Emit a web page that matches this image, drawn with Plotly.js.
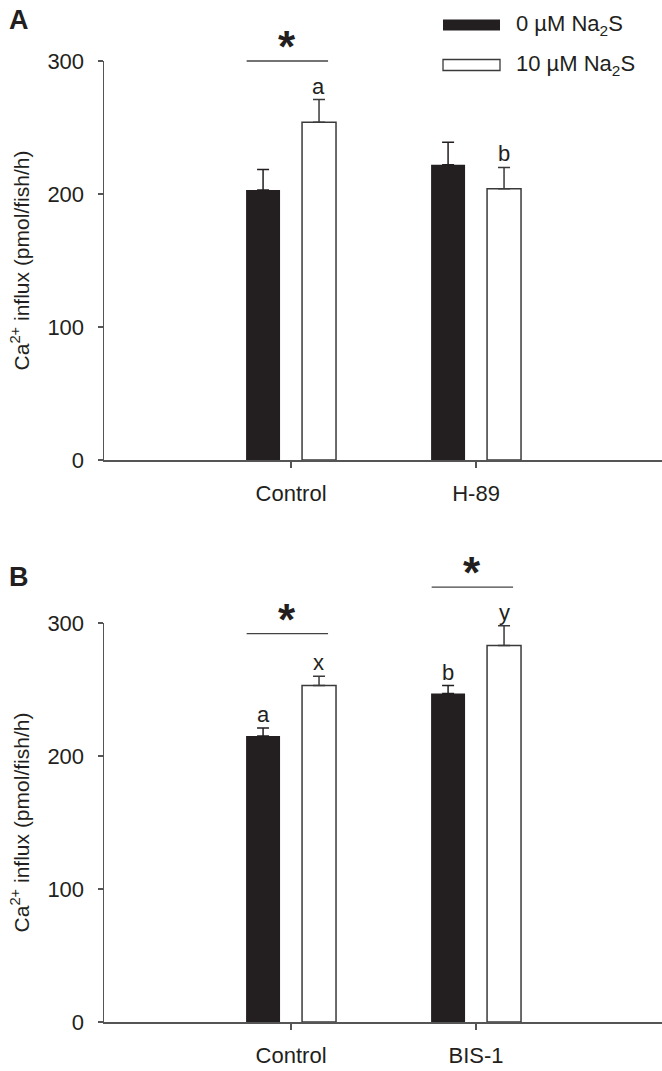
<!DOCTYPE html>
<html>
<head>
<meta charset="utf-8">
<script src="https://cdn.plot.ly/plotly-3.0.1.min.js"></script>
<style>html,body{margin:0;padding:0;background:#fff;}#chart{width:662px;height:1071px;}</style>
</head>
<body>
<div id="chart"></div>
<script>
// ---------- data ----------
const categoriesA = ["Control", "H-89"];
const categoriesB = ["Control", "BIS-1"];
const seriesNames = ["0 µM Na<sub>2</sub>S", "10 µM Na<sub>2</sub>S"];

const meanA_0 = [203, 222];
const errA_0  = [15.5, 17];
const meanA_10 = [254, 204];
const errA_10  = [17, 16];

const meanB_0 = [215, 247];
const errB_0  = [6, 6];
const meanB_10 = [253, 283];
const errB_10  = [7, 15];

// letter labels over bars (per category), "" = none
const lettersA_0 = ["", ""];
const lettersA_10 = ["a", "b"];
const lettersB_0 = ["a", "b"];
const lettersB_10 = ["x", "y"];

// significance bars: category index + level
const sigA_cat = [0];
const sigA_level = [300];
const sigB_cat = [0, 1];
const sigB_level = [292, 327];

// ---------- styling / layout ----------
const W = 662, H = 1071;
const FONT = "Liberation Sans, Arial, Helvetica, sans-serif";
const TXT = "#231f20";
const AX = "#555555";
const px = v => v / W;
const py = v => 1 - v / H;

const domA = [py(460), py(61)];
const domB = [py(1022), py(623)];
const xDom = [px(104), 1];
const xRange = [-1.011, 2.005];
const yRange = [0, 300];

// data -> paper helpers (through the axis mapping)
const xToPaper = x => xDom[0] + (x - xRange[0]) / (xRange[1] - xRange[0]) * (xDom[1] - xDom[0]);
const yToPaper = (y, dom) => dom[0] + (y - yRange[0]) / (yRange[1] - yRange[0]) * (dom[1] - dom[0]);

function barTrace(x, y, e, fill, name, xa, ya) {
  const white = fill === "#ffffff";
  return {
    type: "bar", x: x, y: y, name: name, xaxis: xa, yaxis: ya, showlegend: false,
    marker: {color: fill, line: {color: white ? "#3a3a3a" : TXT, width: white ? 1.5 : 0}},
    error_y: {type: "data", array: e, arrayminus: e.map(() => 0), symmetric: false,
              color: white ? "#3a3a3a" : TXT, thickness: 1.5, width: 6},
    hoverinfo: "skip"
  };
}

const xIdx = [0, 1];
const traces = [
  barTrace(xIdx, meanA_0, errA_0, TXT, seriesNames[0], "x", "y"),
  barTrace(xIdx, meanA_10, errA_10, "#ffffff", seriesNames[1], "x", "y"),
  barTrace(xIdx, meanB_0, errB_0, TXT, seriesNames[0], "x2", "y2"),
  barTrace(xIdx, meanB_10, errB_10, "#ffffff", seriesNames[1], "x2", "y2")
];

const annotations = [];
const shapes = [];

// bar offsets within a group (fraction of category spacing)
const OFF0 = -0.151, OFF10 = 0.151;

function letters(arr, means, errs, off, xa, ya) {
  arr.forEach((t, i) => {
    if (!t) return;
    annotations.push({xref: xa, yref: ya, x: xIdx[i] + off, y: means[i] + errs[i],
      text: t, showarrow: false, yanchor: "bottom", xanchor: "center", yshift: -1,
      font: {family: FONT, size: 22, color: TXT}});
  });
}
letters(lettersA_0, meanA_0, errA_0, OFF0, "x", "y");
letters(lettersA_10, meanA_10, errA_10, OFF10, "x", "y");
letters(lettersB_0, meanB_0, errB_0, OFF0, "x2", "y2");
letters(lettersB_10, meanB_10, errB_10, OFF10, "x2", "y2");

function sig(cats, levels, dom) {
  cats.forEach((c, i) => {
    const x1 = xIdx[c] - 0.24, x2 = xIdx[c] + 0.2;
    const yp = yToPaper(levels[i], dom);
    shapes.push({type: "line", xref: "paper", yref: "paper",
      x0: xToPaper(x1), x1: xToPaper(x2), y0: yp, y1: yp,
      line: {color: "#444", width: 1.3}});
    annotations.push({xref: "paper", yref: "paper", x: xToPaper((x1 + x2) / 2), y: yp,
      text: "<b>*</b>", showarrow: false, yanchor: "bottom", xanchor: "center", yshift: -12,
      font: {family: FONT, size: 44, color: TXT}});
  });
}
sig(sigA_cat, sigA_level, domA);
sig(sigB_cat, sigB_level, domB);

// panel letters
annotations.push({xref: "paper", yref: "paper", x: px(19), y: py(20), text: "<b>A</b>",
  showarrow: false, xanchor: "center", yanchor: "middle", font: {family: FONT, size: 27, color: TXT}});
annotations.push({xref: "paper", yref: "paper", x: px(19), y: py(577), text: "<b>B</b>",
  showarrow: false, xanchor: "center", yanchor: "middle", font: {family: FONT, size: 27, color: TXT}});

// manual legend
const legY = [25, 65];
const legFill = [TXT, "#ffffff"];
legY.forEach((yy, i) => {
  shapes.push({type: "rect", xref: "paper", yref: "paper", x0: px(443), x1: px(500),
    y0: py(yy - 5.5), y1: py(yy + 5.5), fillcolor: legFill[i],
    line: {color: i ? "#3a3a3a" : TXT, width: i ? 1.3 : 0}});
  annotations.push({xref: "paper", yref: "paper", x: px(514), y: py(yy), text: seriesNames[i],
    showarrow: false, xanchor: "left", yanchor: "middle", font: {family: FONT, size: 22, color: TXT}});
});

function xAxis(cats, anchor) {
  return {domain: xDom, range: xRange, anchor: anchor, tickmode: "array",
    tickvals: xIdx, ticktext: cats, ticks: "outside", ticklen: 6, tickwidth: 1.3, tickcolor: AX,
    showline: true, linecolor: AX, linewidth: 1.5, showgrid: false, zeroline: false,
    tickfont: {family: FONT, size: 22, color: TXT}, ticklabelstandoff: 7, fixedrange: true,
    automargin: false};
}
function yAxis(dom, anchor) {
  return {domain: dom, range: yRange, anchor: anchor, tickmode: "array",
    tickvals: [0, 100, 200, 300], ticks: "outside", ticklen: 5, tickwidth: 1.3, tickcolor: AX,
    showline: true, linecolor: AX, linewidth: 1.5, showgrid: false, zeroline: false,
    tickfont: {family: FONT, size: 22, color: TXT}, ticklabelstandoff: 9,
    title: {text: "Ca<sup>2+</sup> influx (pmol/fish/h)", font: {family: FONT, size: 21, color: TXT}, standoff: 12},
    fixedrange: true, automargin: false};
}

const layout = {
  width: W, height: H, margin: {l: 0, r: 0, t: 0, b: 0, autoexpand: false},
  paper_bgcolor: "#fff", plot_bgcolor: "#fff",
  barmode: "group", bargap: 0.395, bargroupgap: 0.393,
  showlegend: false,
  xaxis: xAxis(categoriesA, "y"),
  yaxis: yAxis(domA, "x"),
  xaxis2: xAxis(categoriesB, "y2"),
  yaxis2: yAxis(domB, "x2"),
  annotations: annotations, shapes: shapes,
  font: {family: FONT, color: TXT}
};

Plotly.newPlot("chart", traces, layout, {staticPlot: true, displayModeBar: false});
</script>
</body>
</html>
